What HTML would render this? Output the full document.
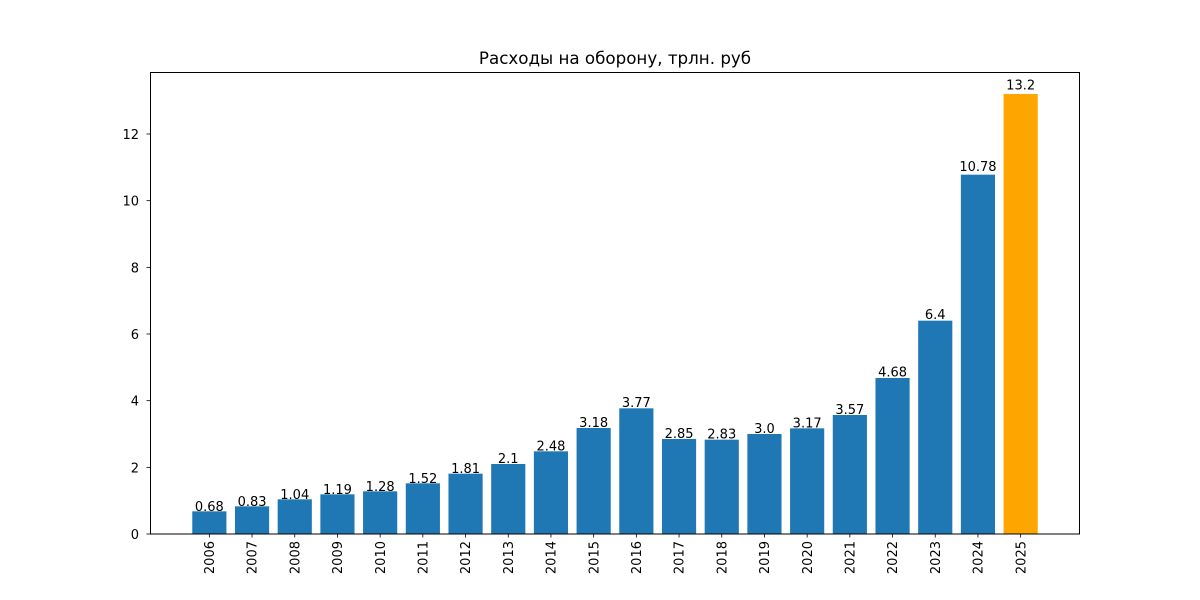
<!DOCTYPE html>
<html><head><meta charset="utf-8"><style>html,body{margin:0;padding:0;background:#fff}svg{display:block}</style></head>
<body>
<svg width="1200" height="600" xmlns="http://www.w3.org/2000/svg" font-family="DejaVu Sans, Liberation Sans, sans-serif" font-size="13px">
<rect width="1200" height="600" fill="#fff"/>
<g fill="#1f77b4">
<rect x="192.27" y="511.33" width="34.16" height="22.67"/>
<rect x="234.97" y="506.33" width="34.16" height="27.67"/>
<rect x="277.67" y="499.33" width="34.16" height="34.67"/>
<rect x="320.37" y="494.33" width="34.16" height="39.67"/>
<rect x="363.07" y="491.33" width="34.16" height="42.67"/>
<rect x="405.77" y="483.33" width="34.16" height="50.67"/>
<rect x="448.47" y="473.67" width="34.16" height="60.33"/>
<rect x="491.17" y="464" width="34.16" height="70"/>
<rect x="533.87" y="451.33" width="34.16" height="82.67"/>
<rect x="576.57" y="428" width="34.16" height="106"/>
<rect x="619.27" y="408.33" width="34.16" height="125.67"/>
<rect x="661.97" y="439" width="34.16" height="95"/>
<rect x="704.67" y="439.67" width="34.16" height="94.33"/>
<rect x="747.37" y="434" width="34.16" height="100"/>
<rect x="790.07" y="428.33" width="34.16" height="105.67"/>
<rect x="832.77" y="415" width="34.16" height="119"/>
<rect x="875.47" y="378" width="34.16" height="156"/>
<rect x="918.17" y="320.67" width="34.16" height="213.33"/>
<rect x="960.87" y="174.67" width="34.16" height="359.33"/>
</g>
<rect x="1003.57" y="94" width="34.16" height="440" fill="#ffa500"/>
<g text-anchor="middle" fill="#000">
<text x="209.35" y="511">0.68</text>
<text x="252.05" y="506">0.83</text>
<text x="294.75" y="499">1.04</text>
<text x="337.45" y="494">1.19</text>
<text x="380.15" y="490.8">1.28</text>
<text x="422.85" y="482.8">1.52</text>
<text x="465.55" y="473">1.81</text>
<text x="508.25" y="463.2">2.1</text>
<text x="550.95" y="450.5">2.48</text>
<text x="593.65" y="427">3.18</text>
<text x="636.35" y="407">3.77</text>
<text x="679.05" y="438">2.85</text>
<text x="721.75" y="438.7">2.83</text>
<text x="764.45" y="433">3.0</text>
<text x="807.15" y="427.3">3.17</text>
<text x="849.85" y="413.8">3.57</text>
<text x="892.55" y="376.5">4.68</text>
<text x="935.25" y="318.8">6.4</text>
<text x="977.95" y="171">10.78</text>
<text x="1020.65" y="89.7">13.2</text>
</g>
<rect x="150.5" y="72.5" width="929" height="461.5" fill="none" stroke="#000" stroke-width="1"/>
<g stroke="#000" stroke-width="0.8">
<line x1="146.5" y1="534" x2="150" y2="534"/>
<line x1="146.5" y1="467.33" x2="150" y2="467.33"/>
<line x1="146.5" y1="400.67" x2="150" y2="400.67"/>
<line x1="146.5" y1="334" x2="150" y2="334"/>
<line x1="146.5" y1="267.33" x2="150" y2="267.33"/>
<line x1="146.5" y1="200.67" x2="150" y2="200.67"/>
<line x1="146.5" y1="134" x2="150" y2="134"/>
</g>
<g text-anchor="end">
<text x="139" y="539">0</text>
<text x="139" y="472.3">2</text>
<text x="139" y="405.7">4</text>
<text x="139" y="339">6</text>
<text x="139" y="272.3">8</text>
<text x="139" y="205.7">10</text>
<text x="139" y="139">12</text>
</g>
<g stroke="#000" stroke-width="0.8">
<line x1="209.35" y1="534" x2="209.35" y2="537.5"/><line x1="252.05" y1="534" x2="252.05" y2="537.5"/><line x1="294.75" y1="534" x2="294.75" y2="537.5"/><line x1="337.45" y1="534" x2="337.45" y2="537.5"/><line x1="380.15" y1="534" x2="380.15" y2="537.5"/><line x1="422.85" y1="534" x2="422.85" y2="537.5"/><line x1="465.55" y1="534" x2="465.55" y2="537.5"/><line x1="508.25" y1="534" x2="508.25" y2="537.5"/><line x1="550.95" y1="534" x2="550.95" y2="537.5"/><line x1="593.65" y1="534" x2="593.65" y2="537.5"/><line x1="636.35" y1="534" x2="636.35" y2="537.5"/><line x1="679.05" y1="534" x2="679.05" y2="537.5"/><line x1="721.75" y1="534" x2="721.75" y2="537.5"/><line x1="764.45" y1="534" x2="764.45" y2="537.5"/><line x1="807.15" y1="534" x2="807.15" y2="537.5"/><line x1="849.85" y1="534" x2="849.85" y2="537.5"/><line x1="892.55" y1="534" x2="892.55" y2="537.5"/><line x1="935.25" y1="534" x2="935.25" y2="537.5"/><line x1="977.95" y1="534" x2="977.95" y2="537.5"/><line x1="1020.65" y1="534" x2="1020.65" y2="537.5"/>
</g>
<g text-anchor="end">
<text transform="translate(214,541) rotate(-90)">2006</text>
<text transform="translate(256.7,541) rotate(-90)">2007</text>
<text transform="translate(299.4,541) rotate(-90)">2008</text>
<text transform="translate(342.1,541) rotate(-90)">2009</text>
<text transform="translate(384.8,541) rotate(-90)">2010</text>
<text transform="translate(427.5,541) rotate(-90)">2011</text>
<text transform="translate(470.2,541) rotate(-90)">2012</text>
<text transform="translate(512.9,541) rotate(-90)">2013</text>
<text transform="translate(555.6,541) rotate(-90)">2014</text>
<text transform="translate(598.3,541) rotate(-90)">2015</text>
<text transform="translate(641,541) rotate(-90)">2016</text>
<text transform="translate(683.7,541) rotate(-90)">2017</text>
<text transform="translate(726.4,541) rotate(-90)">2018</text>
<text transform="translate(769.1,541) rotate(-90)">2019</text>
<text transform="translate(811.8,541) rotate(-90)">2020</text>
<text transform="translate(854.5,541) rotate(-90)">2021</text>
<text transform="translate(897.2,541) rotate(-90)">2022</text>
<text transform="translate(939.9,541) rotate(-90)">2023</text>
<text transform="translate(982.6,541) rotate(-90)">2024</text>
<text transform="translate(1025.3,541) rotate(-90)">2025</text>
</g>
<text x="615" y="64" text-anchor="middle" font-size="16.7px">Расходы на оборону, трлн. руб</text>
</svg>
</body></html>
